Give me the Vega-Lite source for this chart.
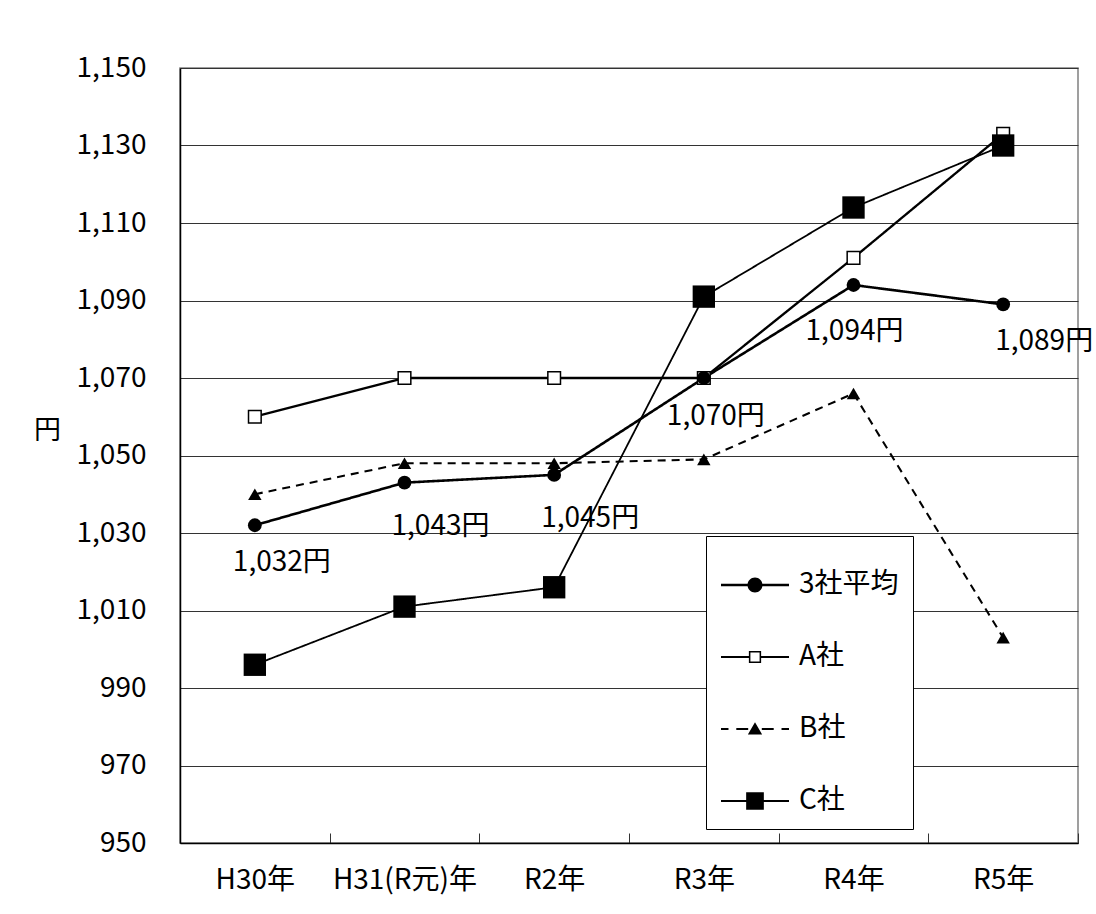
{
  "$schema": "https://vega.github.io/schema/vega-lite/v6.json",
  "width": 898,
  "height": 775,
  "autosize": {"type": "none"},
  "padding": {"left": 180, "top": 68, "right": 18, "bottom": 71},
  "background": "white",
  "config": {
    "font": "Noto Sans CJK JP",
    "view": {"stroke": "#808080", "strokeWidth": 1.5},
    "axis": {"labelFont": "Noto Sans CJK JP", "labelColor": "black", "labelFontSize": 28}
  },
  "data": {
    "values": [
      {"year": "H30年", "series": "3社平均", "value": 1032},
      {"year": "H31(R元)年", "series": "3社平均", "value": 1043},
      {"year": "R2年", "series": "3社平均", "value": 1045},
      {"year": "R3年", "series": "3社平均", "value": 1070},
      {"year": "R4年", "series": "3社平均", "value": 1094},
      {"year": "R5年", "series": "3社平均", "value": 1089},
      {"year": "H30年", "series": "A社", "value": 1060},
      {"year": "H31(R元)年", "series": "A社", "value": 1070},
      {"year": "R2年", "series": "A社", "value": 1070},
      {"year": "R3年", "series": "A社", "value": 1070},
      {"year": "R4年", "series": "A社", "value": 1101},
      {"year": "R5年", "series": "A社", "value": 1133},
      {"year": "H30年", "series": "B社", "value": 1040},
      {"year": "H31(R元)年", "series": "B社", "value": 1048},
      {"year": "R2年", "series": "B社", "value": 1048},
      {"year": "R3年", "series": "B社", "value": 1049},
      {"year": "R4年", "series": "B社", "value": 1066},
      {"year": "R5年", "series": "B社", "value": 1003},
      {"year": "H30年", "series": "C社", "value": 996},
      {"year": "H31(R元)年", "series": "C社", "value": 1011},
      {"year": "R2年", "series": "C社", "value": 1016},
      {"year": "R3年", "series": "C社", "value": 1091},
      {"year": "R4年", "series": "C社", "value": 1114},
      {"year": "R5年", "series": "C社", "value": 1130}
    ]
  },
  "encoding": {
    "x": {
      "field": "year", "type": "nominal",
      "scale": {"domain": ["H30年", "H31(R元)年", "R2年", "R3年", "R4年", "R5年"], "paddingInner": 0, "paddingOuter": 0},
      "axis": {"title": null, "labelAngle": 0, "labelPadding": 33, "tickBand": "extent", "tickSize": -10, "tickColor": "#333333", "domainColor": "black", "domainWidth": 1.5, "grid": false}
    },
    "y": {
      "field": "value", "type": "quantitative",
      "scale": {"domain": [950, 1150], "nice": false, "zero": false},
      "axis": {"title": "円", "titleAngle": 0, "titleX": -133, "titleY": 362, "titleAlign": "center", "titleBaseline": "middle", "titleFontSize": 27, "titleFontWeight": "normal", "titleColor": "black", "values": [950, 970, 990, 1010, 1030, 1050, 1070, 1090, 1110, 1130, 1150], "format": ",d", "ticks": false, "labelPadding": 34, "grid": true, "gridColor": "#333333", "gridWidth": 1, "domainColor": "black", "domainWidth": 1.5}
    }
  },
  "layer": [
    {
      "mark": {"type": "line", "color": "black"},
      "encoding": {
        "detail": {"field": "series"},
        "strokeDash": {"field": "series", "scale": {"domain": ["3社平均", "A社", "B社", "C社"], "range": [[1, 0], [1, 0], [8, 6], [1, 0]]}, "legend": null},
        "strokeWidth": {"field": "series", "scale": {"domain": ["3社平均", "A社", "B社", "C社"], "range": [2.6, 1.8, 1.6, 1.8]}, "legend": null}
      }
    },
    {
      "transform": [{"filter": "datum.series === 'B社'"}],
      "mark": {"type": "point", "shape": "triangle-up", "filled": true, "color": "black", "size": 180, "opacity": 1}
    },
    {
      "transform": [{"filter": "datum.series === 'A社'"}],
      "mark": {"type": "point", "shape": "square", "filled": true, "fill": "white", "stroke": "black", "strokeWidth": 1.5, "size": 160, "opacity": 1}
    },
    {
      "transform": [{"filter": "datum.series === '3社平均'"}],
      "mark": {"type": "point", "shape": "circle", "filled": true, "color": "black", "size": 190, "opacity": 1}
    },
    {
      "transform": [{"filter": "datum.series === 'C社'"}],
      "mark": {"type": "point", "shape": "square", "filled": true, "color": "black", "size": 500, "opacity": 1}
    },
    {
      "transform": [
        {"filter": "datum.series === '3社平均' && datum.year === 'H30年'"},
        {"calculate": "format(datum.value, ',') + '円'", "as": "label"}
      ],
      "mark": {"type": "text", "fontSize": 28, "color": "black", "dx": 27, "dy": 38, "baseline": "middle", "align": "center"},
      "encoding": {"text": {"field": "label"}}
    },
    {
      "transform": [
        {"filter": "datum.series === '3社平均' && (datum.year === 'H31(R元)年' || datum.year === 'R2年')"},
        {"calculate": "format(datum.value, ',') + '円'", "as": "label"}
      ],
      "mark": {"type": "text", "fontSize": 28, "color": "black", "dx": 36, "dy": 44, "baseline": "middle", "align": "center"},
      "encoding": {"text": {"field": "label"}}
    },
    {
      "transform": [
        {"filter": "datum.series === '3社平均' && datum.year === 'R3年'"},
        {"calculate": "format(datum.value, ',') + '円'", "as": "label"}
      ],
      "mark": {"type": "text", "fontSize": 28, "color": "black", "dx": 12, "dy": 39, "baseline": "middle", "align": "center"},
      "encoding": {"text": {"field": "label"}}
    },
    {
      "transform": [
        {"filter": "datum.series === '3社平均' && datum.year === 'R4年'"},
        {"calculate": "format(datum.value, ',') + '円'", "as": "label"}
      ],
      "mark": {"type": "text", "fontSize": 28, "color": "black", "dx": 1, "dy": 47, "baseline": "middle", "align": "center"},
      "encoding": {"text": {"field": "label"}}
    },
    {
      "transform": [
        {"filter": "datum.series === '3社平均' && datum.year === 'R5年'"},
        {"calculate": "format(datum.value, ',') + '円'", "as": "label"}
      ],
      "mark": {"type": "text", "fontSize": 28, "color": "black", "dx": 41, "dy": 38, "baseline": "middle", "align": "center"},
      "encoding": {"text": {"field": "label"}}
    },
    {
      "mark": {"type": "point", "filled": true, "fill": "black", "opacity": 0.001},
      "encoding": {
        "shape": {
          "field": "series",
          "scale": {
            "domain": ["3社平均", "A社", "B社", "C社"],
            "range": [
              "M-1,-0.038H1V0.038H-1ZM0.22,0A0.22,0.22,0,1,1,-0.22,0A0.22,0.22,0,1,1,0.22,0Z",
              "M-1,-0.03H-0.18V0.03H-1ZM0.18,-0.03H1V0.03H0.18ZM-0.18,-0.18H0.18V0.18H-0.18ZM-0.135,-0.135V0.135H0.135V-0.135Z",
              "M-1,-0.03H-0.78V0.03H-1ZM-0.55,-0.03H-0.2V0.03H-0.55ZM0.2,-0.03H0.55V0.03H0.2ZM0.78,-0.03H1V0.03H0.78ZM0,-0.2L0.21,0.16H-0.21Z",
              "M-1,-0.03H1V0.03H-1ZM-0.26,-0.26H0.26V0.26H-0.26Z"
            ]
          },
          "legend": {
            "orient": "none", "legendX": 526, "legendY": 468, "title": null,
            "symbolSize": 4624, "labelFontSize": 28, "labelColor": "black", "labelOffset": 9,
            "rowPadding": 23, "padding": 14, "strokeColor": "black", "fillColor": "white",
            "symbolFillColor": "black", "symbolOpacity": 1
          }
        }
      }
    }
  ],
  "resolve": {"scale": {"shape": "independent"}}
}
